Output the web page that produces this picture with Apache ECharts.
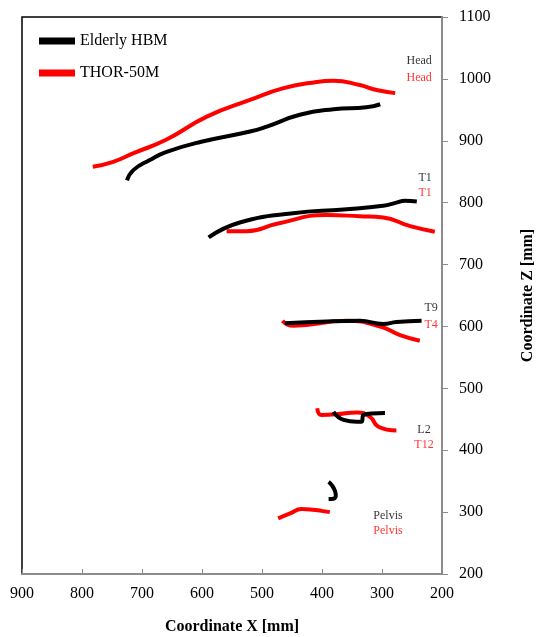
<!DOCTYPE html>
<html>
<head>
<meta charset="utf-8">
<title>Trajectories</title>
<style>
  html, body { margin: 0; padding: 0; background: #fff; }
  #chart { width: 538px; height: 637px; }
</style>
</head>
<body>
<div id="chart"></div>
<script src="https://cdn.jsdelivr.net/npm/echarts@6/dist/echarts.min.js"></script>
<script>
// trajectories [x, z] in mm
var hbmHead = [[725, 836], [714, 853], [687, 869], [659, 882], [603, 898], [520, 915], [492, 923], [437, 942], [381, 951], [326, 954], [303, 959]];
var thorHead = [[782, 858], [748, 866], [714, 880], [659, 902], [592, 939], [520, 966], [464, 985], [409, 995], [381, 997], [337, 990], [309, 982], [278, 977]];
var hbmT1 = [[589, 744], [537, 768], [448, 783], [364, 789], [298, 795], [276, 800], [262, 803], [242, 802]];
var thorT1 = [[559, 754], [525, 754], [475, 766], [392, 780], [337, 778], [298, 776], [253, 762], [212, 753]];
var hbmT9 = [[462, 605], [392, 608], [337, 609], [298, 604], [276, 607], [234, 609]];
var thorT4 = [[466, 609], [448, 601], [359, 609], [303, 600], [270, 586], [237, 577]];
var hbmL2 = [[381, 462], [364, 449], [342, 446], [334, 446], [331, 457], [295, 460]];
var thorT12 = [[408, 468], [401, 457], [376, 458], [342, 461], [320, 454], [306, 438], [276, 432]];
var hbmPelvis = [[389, 349], [384, 344], [378, 333], [377, 326], [384, 321], [389, 321]];
var thorPelvis = [[473, 290], [453, 298], [434, 305], [416, 304], [401, 302], [387, 300]];

// segment labels [x, z, text]
var hbmLabels = [[238, 1029, 'Head'], [228, 840, 'T1'], [218, 630, 'T9'], [230, 433, 'L2'], [290, 294, 'Pelvis']];
var thorLabels = [[238, 1002, 'Head'], [228, 816, 'T1'], [218, 602, 'T4'], [230, 409, 'T12'], [290, 270, 'Pelvis']];

var font = '"Liberation Serif", "Times New Roman", serif';

function traj(name, color, data) {
    return {
        name: name,
        type: 'line',
        data: data,
        smooth: true,
        symbol: 'none',
        lineStyle: { color: color, width: 4 },
        itemStyle: { color: color },
        z: name == 'THOR-50M' ? 2 : 3
    };
}

function labels(color, data) {
    return {
        type: 'scatter',
        data: data,
        symbolSize: 0,
        silent: true,
        label: {
            show: true,
            position: 'inside',
            formatter: function (p) { return p.data[2]; },
            color: color,
            textBorderWidth: 0,
            fontFamily: font,
            fontSize: 12
        }
    };
}

var myChart = echarts.init(document.getElementById('chart'));
var option = {
    animation: false,
    textStyle: { fontFamily: font },
    legend: {
        data: ['Elderly HBM', 'THOR-50M'],
        orient: 'vertical',
        left: 34,
        top: 28,
        icon: 'rect',
        itemWidth: 36,
        itemHeight: 7,
        itemGap: 16,
        textStyle: { fontFamily: font, fontSize: 16, color: '#000' }
    },
    grid: {
        left: 22, right: 96, top: 17, bottom: 63,
        outerBoundsMode: 'none',
        containLabel: false,
        show: true,
        borderColor: '#000',
        borderWidth: 1.5
    },
    xAxis: {
        type: 'value',
        inverse: true,
        min: 200, max: 900, interval: 100,
        name: 'Coordinate X [mm]',
        nameLocation: 'middle',
        nameGap: 45,
        nameTextStyle: { fontFamily: font, fontSize: 16, fontWeight: 'bold', color: '#000' },
        axisLine: { lineStyle: { color: '#8c8c8c', width: 2 } },
        axisTick: { inside: true, length: 5, lineStyle: { color: '#8c8c8c' } },
        axisLabel: { fontFamily: font, fontSize: 16, color: '#000', margin: 12,
            formatter: function (v) { return String(v); } },
        splitLine: { show: false }
    },
    yAxis: {
        type: 'value',
        position: 'right',
        min: 200, max: 1100, interval: 100,
        name: 'Coordinate Z [mm]',
        nameLocation: 'middle',
        nameRotate: 90,
        nameGap: 78,
        nameTextStyle: { fontFamily: font, fontSize: 16, fontWeight: 'bold', color: '#000' },
        axisLine: { lineStyle: { color: '#8c8c8c', width: 2 } },
        axisTick: { length: 6, lineStyle: { color: '#8c8c8c' } },
        axisLabel: { fontFamily: font, fontSize: 16, color: '#000', margin: 17,
            formatter: function (v) { return String(v); } },
        splitLine: { show: false }
    },
    series: [
        traj('THOR-50M', '#ff0000', thorHead),
        traj('THOR-50M', '#ff0000', thorT1),
        traj('THOR-50M', '#ff0000', thorT4),
        traj('THOR-50M', '#ff0000', thorT12),
        traj('THOR-50M', '#ff0000', thorPelvis),
        traj('Elderly HBM', '#000000', hbmHead),
        traj('Elderly HBM', '#000000', hbmT1),
        traj('Elderly HBM', '#000000', hbmT9),
        traj('Elderly HBM', '#000000', hbmL2),
        traj('Elderly HBM', '#000000', hbmPelvis),
        labels('#000000', hbmLabels),
        labels('#ff0000', thorLabels)
    ]
};
myChart.setOption(option);
</script>
</body>
</html>
